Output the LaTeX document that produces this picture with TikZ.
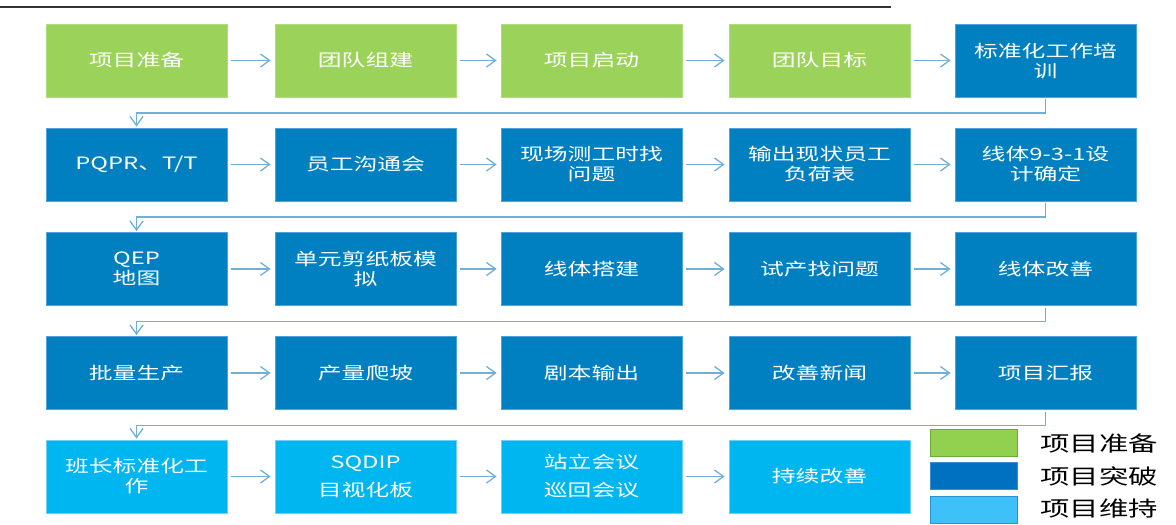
\documentclass[tikz,border=0pt]{standalone}
\usepackage{fontspec}
\setmainfont{Noto Sans CJK SC}[FakeStretch=1.4]
\usetikzlibrary{arrows.meta}
\definecolor{cgreen}{HTML}{9BD35A}
\definecolor{cgreenb}{HTML}{B0DC80}
\definecolor{cdark}{HTML}{0080C0}
\definecolor{cdarkb}{HTML}{4FA3D6}
\definecolor{clight}{HTML}{00B6F0}
\definecolor{clightb}{HTML}{70D0F5}
\definecolor{carrow}{HTML}{6FB0D8}
\definecolor{lgreen}{HTML}{92D050}
\definecolor{lgreenb}{HTML}{6FA83A}
\definecolor{ldark}{HTML}{0070C0}
\definecolor{ldarkb}{HTML}{3A8ED0}
\definecolor{llight}{HTML}{3EC1F8}
\definecolor{llightb}{HTML}{2E90D0}
\tikzset{
  box/.style={minimum width=181pt, minimum height=73pt, inner sep=0pt, align=center,
    text=white, font=\fontsize{17}{20}\selectfont, line width=0.8pt},
  gbox/.style={box, fill=cgreen, draw=cgreenb},
  dbox/.style={box, fill=cdark, draw=cdarkb},
  lbox/.style={box, fill=clight, draw=clightb},
  conn/.style={draw=carrow, line width=1.3pt, -{Straight Barb[length=9pt,width=13pt]}},
  harrow/.style={conn, shorten <=4pt, shorten >=4pt},
  varrow/.style={conn, shorten <=2pt, shorten >=1pt},
  legbox/.style={minimum width=87pt, minimum height=27pt, inner sep=0pt, line width=0.8pt},
  legtext/.style={anchor=west, inner sep=0pt, text=black, font=\fontsize{21}{24}\selectfont}
}
\begin{document}
\begin{tikzpicture}[x=1pt,y=-1pt]
\useasboundingbox (0,0) rectangle (1176,525);
\draw[line width=1.4pt, draw=black!80] (0,7) -- (891,7);
% row 1
\node[gbox] (a1) at (136.5,60.5) {项目准备};
\node[gbox] (a2) at (365.5,60.5) {团队组建};
\node[gbox] (a3) at (591.5,60.5) {项目启动};
\node[gbox] (a4) at (819.5,60.5) {团队目标};
\node[dbox] (a5) at (1045.5,60.5) {标准化工作培\\训};
% row 2
\node[dbox] (b1) at (136.5,164.5) {PQPR、T/T};
\node[dbox] (b2) at (365.5,164.5) {员工沟通会};
\node[dbox] (b3) at (591.5,164.5) {现场测工时找\\问题};
\node[dbox] (b4) at (819.5,164.5) {输出现状员工\\负荷表};
\node[dbox] (b5) at (1045.5,164.5) {线体9-3-1设\\计确定};
% row 3
\node[dbox] (c1) at (136.5,269) {QEP\\地图};
\node[dbox] (c2) at (365.5,269) {单元剪纸板模\\拟};
\node[dbox] (c3) at (591.5,269) {线体搭建};
\node[dbox] (c4) at (819.5,269) {试产找问题};
\node[dbox] (c5) at (1045.5,269) {线体改善};
% row 4
\node[dbox] (d1) at (136.5,373) {批量生产};
\node[dbox] (d2) at (365.5,373) {产量爬坡};
\node[dbox] (d3) at (591.5,373) {剧本输出};
\node[dbox] (d4) at (819.5,373) {改善新闻};
\node[dbox] (d5) at (1045.5,373) {项目汇报};
% row 5
\node[lbox] (e1) at (136.5,476.5) {班长标准化工\\作};
\node[lbox, font=\fontsize{17}{28}\selectfont] (e2) at (365.5,476.5) {SQDIP\\目视化板};
\node[lbox, font=\fontsize{17}{28}\selectfont] (e3) at (591.5,476.5) {站立会议\\巡回会议};
\node[lbox] (e4) at (819.5,476.5) {持续改善};
% horizontal arrows
\foreach \r in {a,b,c,d}{
  \draw[harrow] (\r1) -- (\r2);
  \draw[harrow] (\r2) -- (\r3);
  \draw[harrow] (\r3) -- (\r4);
  \draw[harrow] (\r4) -- (\r5);
}
\draw[harrow] (e1) -- (e2);
\draw[harrow] (e2) -- (e3);
\draw[harrow] (e3) -- (e4);
% row connectors
\draw[varrow] (a5.south) -- ++(0,15.5) -| (b1.north);
\draw[varrow] (b5.south) -- ++(0,15.5) -| (c1.north);
\draw[varrow] (c5.south) -- ++(0,15.5) -| (d1.north);
\draw[varrow] (d5.south) -- ++(0,15.5) -| (e1.north);
% legend
\node[legbox, fill=lgreen, draw=lgreenb] (g1) at (973.5,442.5) {};
\node[legbox, fill=ldark, draw=ldarkb] (g2) at (973.5,476) {};
\node[legbox, fill=llight, draw=llightb] (g3) at (973.5,509.5) {};
\node[legtext] (t1) at (1040,443) {项目准备};
\node[legtext] (t2) at (1040,476) {项目突破};
\node[legtext] (t3) at (1040,509) {项目维持};
\end{tikzpicture}
\end{document}
